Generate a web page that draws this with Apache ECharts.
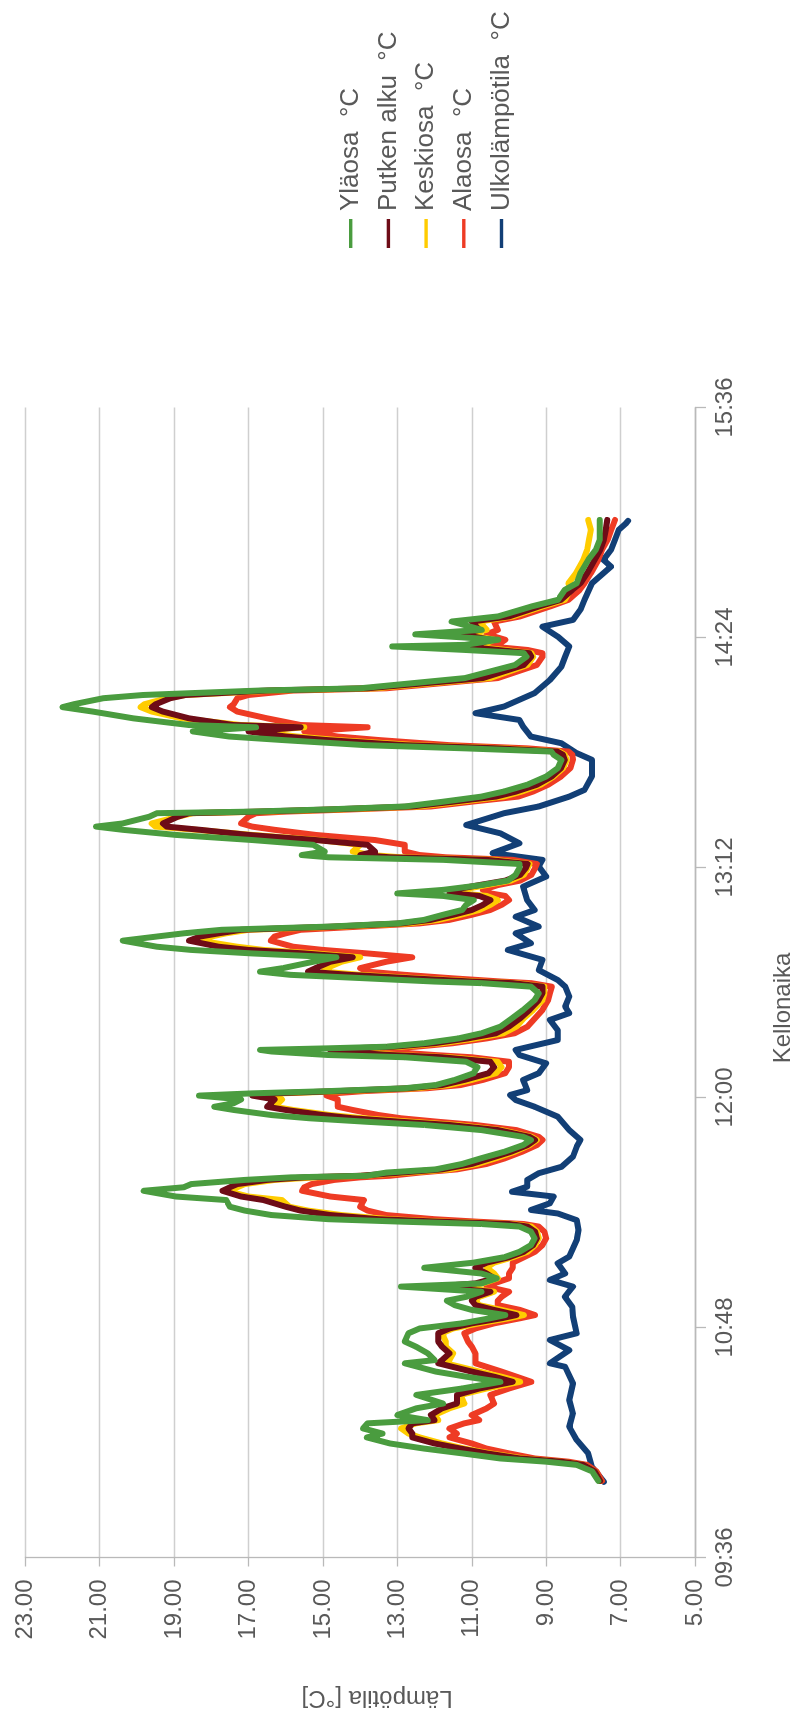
<!DOCTYPE html>
<html>
<head>
<meta charset="utf-8">
<script src="https://cdn.jsdelivr.net/npm/echarts@6/dist/echarts.min.js"></script>
<style>
  html, body { margin: 0; padding: 0; background: #fff; overflow: hidden; width: 800px; height: 1726px; }
  /* the chart is laid out in landscape and turned a quarter turn counter-clockwise */
  #stage { position: absolute; left: 0; top: 0; width: 1726px; height: 800px;
           transform-origin: 0 0; transform: translateY(1726px) rotate(-90deg); }
</style>
</head>
<body>
<div id="stage"></div>
<script>
// Sample times shared by the four tank sensors
const times = [
  "10:00:00","10:03:00","10:05:00","10:06:00","10:07:00","10:08:36","10:10:06","10:11:42","10:13:36","10:14:48",
  "10:16:24","10:18:00","10:19:00","10:20:36","10:22:42","10:24:12","10:26:54","10:28:54","10:31:00","10:32:36",
  "10:34:12","10:36:48","10:37:48","10:39:54","10:42:00","10:43:36","10:46:12","10:47:42","10:49:18","10:50:54",
  "10:51:54","10:53:30","10:55:00","10:56:24","10:57:36","10:59:12","11:00:48","11:01:48","11:03:24","11:04:54",
  "11:06:42","11:08:18","11:10:00","11:11:42","11:13:48","11:15:54","11:18:00","11:19:36","11:20:24","11:21:06",
  "11:21:54","11:23:12","11:24:36","11:25:48","11:27:54","11:29:00","11:30:48","11:31:54","11:32:54","11:34:12",
  "11:35:00","11:35:30","11:36:30","11:37:30","11:39:12","11:41:00","11:43:00","11:45:06","11:46:42","11:47:42",
  "11:49:48","11:51:24","11:52:24","11:53:30","11:54:30","11:56:06","11:57:06","11:58:12","11:59:24","12:00:36",
  "12:01:18","12:02:00","12:02:54","12:03:54","12:05:30","12:07:36","12:09:30","12:11:12","12:12:36","12:13:18",
  "12:14:24","12:14:54","12:15:24","12:15:54","12:17:00","12:18:30","12:20:06","12:22:12","12:24:48","12:27:24",
  "12:30:30","12:32:36","12:34:42","12:35:48","12:36:18","12:37:18","12:38:24","12:39:24","12:40:30","12:42:30",
  "12:43:54","12:45:06","12:46:12","12:47:12","12:49:06","12:50:24","12:51:24","12:52:30","12:53:30","12:54:30",
  "12:55:36","12:57:12","12:58:42","13:00:18","13:01:48","13:03:06","13:03:54","13:05:00","13:06:30","13:07:54",
  "13:09:42","13:11:48","13:13:06","13:14:24","13:15:12","13:15:54","13:17:00","13:19:06","13:20:36","13:22:12",
  "13:23:48","13:24:48","13:25:48","13:27:54","13:29:00","13:29:30","13:30:12","13:31:06","13:32:36","13:34:12",
  "13:35:48","13:37:54","13:40:30","13:43:06","13:45:42","13:47:18","13:48:18","13:49:18","13:50:18","13:51:54",
  "13:53:00","13:54:36","13:55:54","13:56:36","13:58:42","14:00:48","14:02:12","14:03:06","14:05:00","14:06:00",
  "14:07:24","14:08:06","14:11:18","14:15:24","14:18:00","14:19:06","14:20:06","14:21:12","14:21:42","14:23:18",
  "14:25:00","14:26:24","14:29:00","14:30:36","14:33:42","14:35:48","14:38:54","14:41:00","14:44:06","14:48:18",
  "14:51:24","14:54:36","14:57:42","15:00:48"
];

// Yläosa °C
const ylaosa = [
  7.6,7.77,8.18,9.0,10.23,11.26,12.28,13.2,13.82,13.4,
  13.92,13.8,12.18,13.0,12.49,11.77,12.49,11.26,10.23,11.15,
  11.97,12.8,12.0,12.18,12.5,12.8,12.7,12.4,11.26,10.5,
  10.1,11.0,11.46,11.67,11.15,10.74,12.9,10.74,10.33,10.74,
  12.28,10.95,10.13,9.72,9.41,9.31,9.41,9.72,10.74,12.8,
  14.85,16.38,17.1,17.5,17.6,18.95,19.82,18.74,18.54,17.1,
  15.87,13.82,13.3,11.97,11.26,10.74,10.13,9.62,9.41,9.62,
  10.74,12.28,13.82,15.36,16.38,17.4,17.92,17.4,17.2,18.33,
  16.9,14.85,12.8,11.97,11.46,10.95,10.85,11.15,12.8,14.85,
  16.38,16.69,14.85,13.3,12.28,11.36,10.74,10.23,9.92,9.62,
  9.31,9.2,9.41,10.74,12.0,13.82,15.87,16.69,16.08,15.26,
  14.64,16.9,18.54,19.46,20.38,19.46,18.74,17.72,14.85,13.0,
  12.28,11.77,11.26,11.15,10.95,11.77,13.0,11.77,10.74,10.03,
  9.82,9.72,9.72,11.77,14.85,15.57,14.95,15.26,16.9,18.95,
  20.38,21.1,20.38,19.67,19.46,16.9,14.85,12.8,11.77,10.74,
  10.13,9.51,9.0,8.69,8.59,8.8,8.86,11.18,13.86,16.09,
  17.52,18.5,16.8,18.6,20.1,21.18,22.0,21.7,20.9,19.84,
  16.7,14.0,11.18,9.84,9.53,9.6,11.18,13.14,11.18,10.29,
  12.52,10.73,11.54,10.29,9.4,8.68,8.5,8.18,8.08,7.87,
  7.67,7.56,7.56,7.56
];

// Putken alku °C
const putkenAlku = [
  7.55,7.7,8.0,8.6,9.7,10.6,11.3,12.0,12.6,12.6,
  12.7,12.6,12.0,12.1,11.8,11.4,11.4,10.8,9.9,10.4,
  11.0,11.9,11.8,11.6,11.8,11.9,11.9,11.6,11.0,10.2,
  9.8,10.4,10.9,11.0,10.9,10.5,12.0,10.9,10.4,10.6,
  10.9,10.6,10.0,9.6,9.35,9.25,9.3,9.5,10.0,11.8,
  13.5,14.8,15.6,16.0,16.6,17.2,17.7,17.5,17.3,16.5,
  15.5,14.0,12.9,11.8,11.0,10.5,9.95,9.5,9.3,9.45,
  10.3,11.6,12.9,14.2,15.0,16.0,16.5,16.4,16.3,16.9,
  16.3,14.6,12.7,11.8,11.2,10.55,10.4,10.5,11.8,13.2,
  14.6,14.8,14.2,13.1,12.0,11.1,10.35,10.0,9.7,9.45,
  9.2,9.1,9.1,9.9,11.0,12.6,14.3,15.4,15.2,14.8,
  14.2,15.5,17.0,17.8,18.6,18.3,17.8,17.2,14.7,12.9,
  12.1,11.5,11.0,10.7,10.5,10.8,11.6,11.5,10.8,10.1,
  9.7,9.55,9.5,10.6,13.2,14.0,13.6,13.8,15.2,17.0,
  18.3,19.2,19.3,18.9,18.6,16.7,14.7,12.6,11.5,10.35,
  9.8,9.25,8.85,8.6,8.5,8.55,8.7,10.3,12.8,14.9,
  16.0,17.0,15.6,17.4,18.6,19.3,19.6,19.5,19.1,18.7,
  16.5,13.8,10.7,9.6,9.4,9.45,10.3,11.2,10.9,10.5,
  11.3,10.8,11.0,10.0,9.2,8.6,8.3,8.08,7.9,7.7,
  7.55,7.45,7.4,7.36
];

// Keskiosa °C
const keskiosa = [
  7.55,7.7,8.0,8.6,9.6,10.5,11.2,11.8,12.4,12.7,
  12.9,12.5,11.9,12.0,11.6,11.2,11.3,10.6,9.7,10.2,
  10.8,11.7,11.6,11.5,11.7,11.7,11.8,11.5,10.8,10.0,
  9.6,10.2,10.8,10.9,10.8,10.4,11.4,10.7,10.3,10.4,
  10.6,10.4,9.9,9.5,9.3,9.2,9.25,9.4,9.9,11.6,
  13.2,14.5,15.4,15.9,16.1,17.0,17.6,17.3,17.1,16.3,
  15.2,13.9,12.7,11.6,10.85,10.35,9.85,9.45,9.25,9.4,
  10.2,11.4,12.6,13.9,14.8,15.8,16.3,16.2,16.1,16.5,
  16.1,14.4,12.5,11.6,11.0,10.35,10.2,10.3,11.6,13.0,
  14.3,14.5,14.0,12.9,11.8,10.9,10.15,9.8,9.6,9.35,
  9.1,9.05,9.05,9.8,10.8,12.4,14.0,15.0,14.9,14.5,
  14.0,15.2,16.6,17.3,18.3,18.0,17.6,17.0,14.5,12.7,
  11.9,11.3,10.8,10.5,10.3,10.6,11.3,11.3,10.6,9.95,
  9.6,9.5,9.45,10.4,12.9,13.7,14.2,14.0,15.1,16.9,
  18.4,19.5,19.6,18.9,18.5,16.5,14.5,12.4,11.3,10.15,
  9.65,9.15,8.8,8.55,8.45,8.5,8.65,10.1,12.5,14.6,
  15.7,16.8,15.5,17.2,18.8,19.6,19.9,19.8,19.2,18.7,
  16.3,13.6,10.5,9.5,9.35,9.4,10.1,11.0,10.7,10.4,
  11.1,10.6,10.8,9.9,9.1,8.5,8.35,8.4,8.2,8.0,
  7.9,7.85,7.8,7.87
];

// Alaosa °C
const alaosa = [
  7.5,7.65,7.9,8.4,9.3,10.0,10.6,11.0,11.6,11.4,
  11.6,11.2,10.8,11.0,10.6,10.4,10.5,10.0,9.4,9.8,
  10.2,10.9,10.9,10.9,11.0,11.1,11.2,10.9,10.4,9.7,
  9.3,9.7,10.3,10.3,10.2,10.0,10.6,10.4,10.0,10.0,
  9.9,9.9,9.6,9.3,9.1,9.0,9.05,9.2,9.6,10.8,
  12.0,13.3,13.8,14.0,13.9,14.8,15.56,15.5,15.3,14.7,
  14.0,13.2,12.4,11.4,10.6,10.1,9.65,9.25,9.1,9.2,
  9.8,10.9,11.9,12.9,13.5,14.2,14.6,14.6,14.6,14.9,
  14.7,13.9,12.2,11.3,10.7,10.1,10.0,10.0,11.0,12.0,
  13.3,13.4,13.2,12.5,11.5,10.6,9.85,9.5,9.3,9.1,
  8.95,8.9,8.85,9.4,10.2,11.5,12.8,13.8,14.0,13.3,
  12.6,13.8,15.0,15.8,16.4,16.3,16.0,15.6,14.0,12.4,
  11.6,11.0,10.5,10.2,10.0,10.1,10.5,10.7,10.3,9.7,
  9.4,9.3,9.25,9.9,11.7,12.4,12.8,12.8,13.6,15.2,
  16.3,16.9,17.2,17.0,16.8,16.0,14.2,12.1,11.0,9.75,
  9.35,8.95,8.6,8.35,8.28,8.3,8.4,9.5,11.6,13.5,
  14.6,15.5,13.8,15.6,16.5,17.3,17.5,17.4,17.3,17.0,
  15.8,13.3,10.3,9.25,9.1,9.1,9.5,10.5,10.3,10.1,
  10.6,10.3,10.4,9.7,8.9,8.4,8.1,7.97,7.8,7.6,
  7.5,7.35,7.25,7.15
];

// Ulkolämpötila °C, logged on its own clock
const ulkoTimes = [
  "09:59:42","10:04:24","10:08:36","10:12:48","10:16:54","10:21:06","10:25:18","10:30:30","10:35:42","10:36:48",
  "10:40:54","10:44:06","10:46:12","10:51:24","10:54:30","10:57:36","11:00:48","11:02:54","11:04:54","11:08:06",
  "11:10:12","11:15:24","11:18:30","11:21:36","11:23:42","11:24:48","11:26:54","11:29:00","11:30:30","11:32:06",
  "11:34:12","11:36:18","11:38:18","11:41:30","11:44:36","11:46:42","11:49:48","11:54:00","11:57:06","11:59:12",
  "12:00:48","12:02:18","12:05:30","12:07:36","12:10:42","12:13:18","12:14:54","12:18:00","12:21:06","12:24:18",
  "12:26:24","12:28:24","12:31:36","12:34:42","12:36:48","12:39:54","12:43:06","12:46:12","12:48:18","12:51:24",
  "12:53:30","12:56:36","12:58:42","13:01:48","13:06:00","13:09:12","13:12:18","13:14:24","13:16:30","13:19:36",
  "13:22:42","13:25:18","13:29:00","13:31:06","13:34:12","13:36:18","13:40:30","13:45:42","13:47:48","13:50:54",
  "13:53:00","13:56:06","13:58:12","14:00:18","14:02:24","14:06:36","14:10:42","14:14:54","14:18:00","14:21:12",
  "14:24:18","14:27:24","14:29:30","14:32:42","14:35:48","14:41:00","14:46:12","14:48:18","14:51:24","14:54:36",
  "14:57:42","14:59:48","15:00:30"
];
const ulkolampotila = [
  7.45,7.77,7.87,8.18,8.38,8.28,8.38,8.28,8.49,8.9,
  8.38,8.9,8.18,8.28,8.3,8.5,8.28,8.9,8.49,8.69,
  8.38,8.18,8.13,8.18,8.69,9.41,8.9,8.8,9.92,9.51,
  9.51,9.2,8.59,8.28,8.18,8.08,8.38,8.69,9.31,9.82,
  9.97,9.51,9.62,9.2,9.0,9.72,9.82,8.69,8.69,8.9,
  8.38,8.49,8.38,8.49,8.69,9.2,9.1,10.03,9.41,9.82,
  9.2,9.82,9.31,9.51,9.62,9.0,9.2,9.1,10.44,9.72,
  10.23,11.15,10.13,9.2,8.38,7.97,7.77,7.77,8.18,8.59,
  9.41,9.62,9.72,10.9,10.13,9.31,8.9,8.59,8.49,8.38,
  8.69,9.1,8.28,8.08,7.97,7.77,7.26,7.46,7.26,7.15,
  7.05,6.85,6.8
];

// Temperature axis ticks and time axis ticks (minutes of the day)
const tempTicks = { min: 5, max: 23, step: 2 };
const timeTicks = { min: 9 * 60 + 36, max: 15 * 60 + 36, step: 72 };

const toMinutes = s => {
  const [h, m, sec] = s.split(':').map(Number);
  return h * 60 + m + (sec || 0) / 60;
};
const clockLabel = v => {
  const h = Math.floor(v / 60), m = Math.round(v - h * 60);
  return String(h).padStart(2, '0') + ':' + String(m).padStart(2, '0');
};
const pairs = (t, vals) => t.map((s, i) => [toMinutes(s), vals[i]]);

const FONT = '"Liberation Sans", Arial, sans-serif';
const TEXT = '#595959';
const AXIS = '#b9b9b9';
const GRID = '#cfcfcf';

const seriesDefs = [
  { name: 'Ulkolämpötila  °C', color: '#123f76', data: pairs(ulkoTimes, ulkolampotila) },
  { name: 'Alaosa  °C',        color: '#ee3b24', data: pairs(times, alaosa) },
  { name: 'Keskiosa  °C',      color: '#ffcc00', data: pairs(times, keskiosa) },
  { name: 'Putken alku  °C',   color: '#6e0c17', data: pairs(times, putkenAlku) },
  { name: 'Yläosa  °C',        color: '#4a9c3f', data: pairs(times, ylaosa) }
];

const chart = echarts.init(document.getElementById('stage'), null, { width: 1726, height: 800, renderer: 'canvas' });

chart.setOption({
  animation: false,
  backgroundColor: '#ffffff',
  textStyle: { fontFamily: FONT },
  grid: { left: 168.5, right: 407.5, top: 25.3, bottom: 102.6, containLabel: false },
  legend: {
    orient: 'vertical',
    left: 1478,
    top: 337.7,
    padding: 0,
    icon: 'rect',
    itemWidth: 29,
    itemHeight: 3.4,
    itemGap: 11.7,
    data: ['Yläosa  °C', 'Putken alku  °C', 'Keskiosa  °C', 'Alaosa  °C', 'Ulkolämpötila  °C'],
    textStyle: { fontSize: 26, lineHeight: 26, color: TEXT, fontFamily: FONT, padding: [0, 0, 0, 3] }
  },
  xAxis: {
    type: 'value',
    min: timeTicks.min,
    max: timeTicks.max,
    interval: timeTicks.step,
    axisLine: { lineStyle: { color: AXIS, width: 1.3 } },
    axisTick: { length: 11, lineStyle: { color: AXIS, width: 1.3 } },
    axisLabel: { formatter: clockLabel, fontSize: 24, color: TEXT, margin: 18, fontFamily: FONT },
    splitLine: { show: false },
    name: 'Kellonaika',
    nameLocation: 'middle',
    nameGap: 76,
    nameTextStyle: { fontSize: 24, color: TEXT, fontFamily: FONT, padding: [0, 51, 0, 0] }
  },
  yAxis: {
    type: 'value',
    min: tempTicks.min,
    max: tempTicks.max,
    interval: tempTicks.step,
    axisLine: { show: true, lineStyle: { color: AXIS, width: 1.3 } },
    axisTick: { show: true, length: 9, lineStyle: { color: AXIS, width: 1.3 } },
    axisLabel: { formatter: v => v.toFixed(2), fontSize: 24, color: TEXT, margin: 22, fontFamily: FONT },
    splitLine: { show: true, lineStyle: { color: GRID, width: 1.3 } },
    name: 'Lämpötila [°C]',
    nameLocation: 'middle',
    nameRotate: 90,
    nameGap: 128,
    nameTextStyle: { fontSize: 24, color: TEXT, fontFamily: FONT, padding: [0, 34, 0, 0] }
  },
  series: seriesDefs.map(s => ({
    name: s.name,
    type: 'line',
    data: s.data,
    showSymbol: false,
    symbol: 'none',
    color: s.color,
    lineStyle: { color: s.color, width: 6, cap: 'round', join: 'round' },
    emphasis: { disabled: true }
  }))
});
</script>
</body>
</html>
